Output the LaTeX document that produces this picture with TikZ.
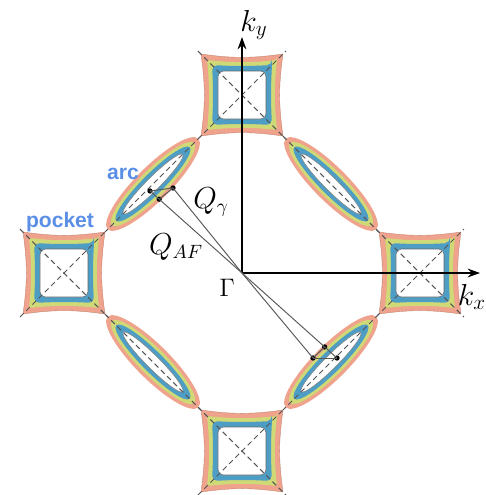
\documentclass[tikz,border=0pt]{standalone}
\usepackage{amsmath,amssymb}
\usepackage{fontspec}
\setsansfont{Liberation Sans}
\usetikzlibrary{arrows.meta,positioning,calc}
\definecolor{salmon}{HTML}{EFA28C}
\definecolor{lime}{HTML}{CFDA76}
\definecolor{sky}{HTML}{4E9DC5}
\definecolor{labelblue}{HTML}{5B8FE6}
\definecolor{dashgray}{HTML}{555555}

\begin{document}
\begin{tikzpicture}[x=0.2mm, y=0.2mm, >=Stealth,
  axis/.style={-{Stealth[length=7pt, width=5pt]}, line width=0.8pt, black},
  qline/.style={line width=0.55pt, black!65},
  diag/.style={dash pattern=on 3pt off 2pt, line width=0.6pt, dashgray},
  qdot/.style={circle, fill=black, inner sep=0pt, minimum size=3pt},
  lbl/.style={font=\sffamily\bfseries\fontsize{12}{14}\selectfont, text=labelblue},
  sym/.style={font=\fontsize{16}{18}\selectfont}]
  \useasboundingbox (-242,-222) rectangle (244,273);

  % pockets at the zone edges
  \foreach \cx/\cy in {0/178, 178/0, 0/-178, -178/0}{
    \begin{scope}[shift={(\cx,\cy)}]
      \filldraw[fill=salmon, draw=salmon!80!black, line width=0.2pt] (41,41) to[bend left=8] (-41,41) to[bend left=8] (-41,-41) to[bend left=8] (41,-41) to[bend left=8] (41,41) -- cycle;
      \fill[lime, rounded corners=1pt] (35,35) to[bend left=6] (-35,35) to[bend left=6] (-35,-35) to[bend left=6] (35,-35) to[bend left=6] (35,35) -- cycle;
      \fill[sky, rounded corners=3pt] (30,30) to[bend left=3] (-30,30) to[bend left=3] (-30,-30) to[bend left=3] (30,-30) to[bend left=3] (30,30) -- cycle;
      \filldraw[fill=white, draw=black!60, line width=0.3pt, rounded corners=3pt] (-24,-24) rectangle (24,24);
      \draw[diag] (-44,-44) -- (44,44);
      \draw[diag] (-44,44) -- (44,-44);
    \end{scope}
  }

  % arcs along the diagonals
  \foreach \ax/\ay/\ang in {-89/89/45, 89/89/-45, 89/-89/45, -89/-89/-45}{
    \begin{scope}[shift={(\ax,\ay)}, rotate=\ang]
      \fill[salmon] (0,0) ellipse [x radius=64, y radius=17];
      \fill[lime] (0,0) ellipse [x radius=58, y radius=13.5];
      \fill[sky] (0,0) ellipse [x radius=52, y radius=10.5];
      \filldraw[fill=white, draw=black!50, line width=0.3pt] (0,0) ellipse [x radius=42, y radius=6.5];
    \end{scope}
  }
  \draw[diag] (-41,137) -- (-137,41);
  \draw[diag] (41,137) -- (137,41);
  \draw[diag] (137,-41) -- (41,-137);
  \draw[diag] (-137,-41) -- (-41,-137);

  % axes
  \coordinate (G) at (0,0);
  \coordinate (ky) at (0,236);
  \coordinate (kx) at (238,0);
  \draw[axis] (G) -- (ky);
  \draw[axis] (G) -- (kx);
  \node[font=\fontsize{18}{20}\selectfont] (kylabel) at (12,248) {$k_y$};
  \node[font=\fontsize{18}{20}\selectfont] (kxlabel) at (230,-24) {$k_x$};
  \node[font=\fontsize{15}{17}\selectfont] (gamma) at (-15,-15) {$\Gamma$};

  % scattering vectors
  \node[qdot] (a) at (-92,82) {};
  \node[qdot] (b) at (-69,85) {};
  \node[qdot] (c) at ($(G)!0.9!(a)$) {};
  \node[qdot] (r) at (95,-85) {};
  \node[qdot] (q) at (71,-85) {};
  \node[qdot] (p) at ($(G)!0.87!(r)$) {};
  \draw[qline] (G) -- (a.center);
  \draw[qline] (G) -- (b.center);
  \draw[qline] (a.center) -- (b.center);
  \draw[qline] (b.center) -- (c.center);
  \draw[qline] (G) -- (r.center);
  \draw[qline] (G) -- (q.center);
  \draw[qline] (q.center) -- (r.center);
  \draw[qline] (q.center) -- (p.center);

  \node[sym] (qgamma) at (-31,71) {$Q_\gamma$};
  \node[sym] (qaf) at (-66,26) {$Q_{AF}$};
  \node[lbl] (arclabel) at (-119,99) {arc};
  \node[lbl] (pocketlabel) at (-182,51) {pocket};
\end{tikzpicture}
\end{document}
